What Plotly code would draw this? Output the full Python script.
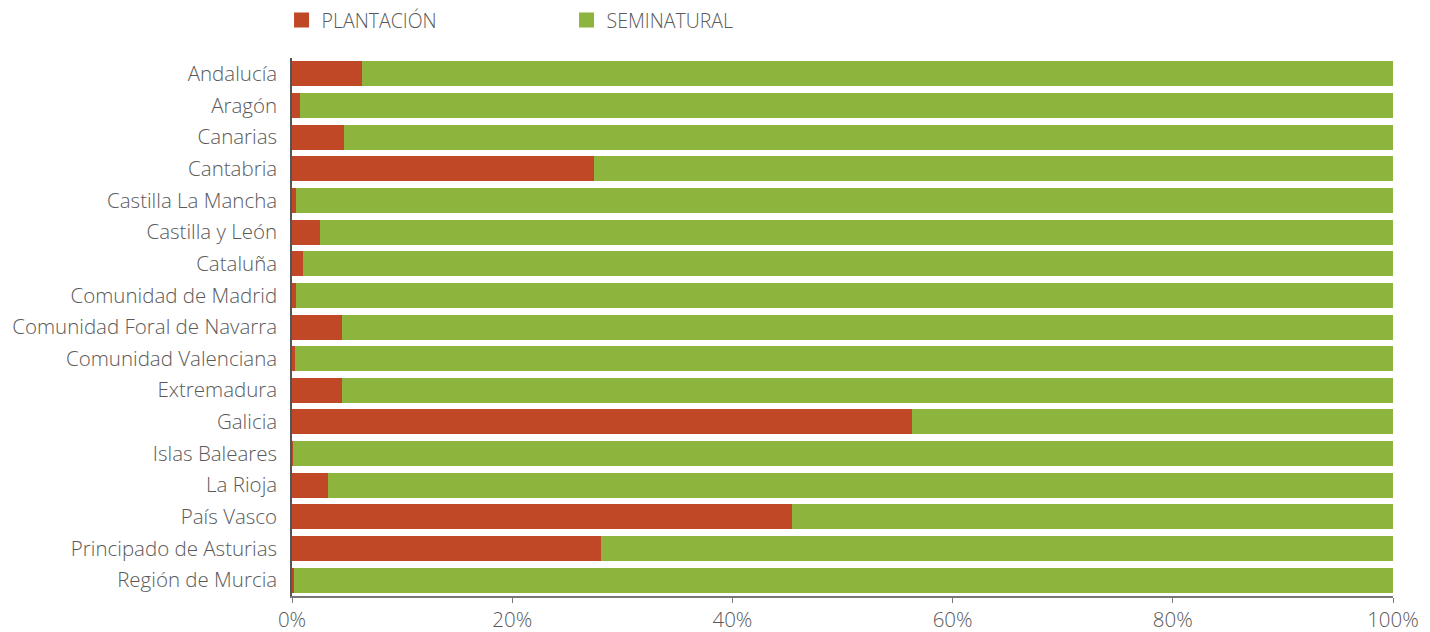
import plotly.graph_objects as go

regions = [
    "Andalucía", "Aragón", "Canarias", "Cantabria", "Castilla La Mancha",
    "Castilla y León", "Cataluña", "Comunidad de Madrid",
    "Comunidad Foral de Navarra", "Comunidad Valenciana", "Extremadura",
    "Galicia", "Islas Baleares", "La Rioja", "País Vasco",
    "Principado de Asturias", "Región de Murcia",
]
plantacion = [6.4, 0.7, 4.7, 27.4, 0.4, 2.5, 1.0, 0.4, 4.5, 0.25, 4.5,
              56.3, 0.05, 3.3, 45.4, 28.1, 0.2]
seminatural = [93.6, 99.3, 95.3, 72.6, 99.6, 97.5, 99.0, 99.6, 95.5, 99.75, 95.5,
               43.7, 99.95, 96.7, 54.6, 71.9, 99.8]
series_names = ["PLANTACIÓN", "SEMINATURAL"]
x_ticks = [0, 20, 40, 60, 80, 100]
x_tick_labels = ["0%", "20%", "40%", "60%", "80%", "100%"]

RED = "#C04826"
GREEN = "#8DB53E"
TXT = "#5a5a5a"
FONT = "Open Sans"

fig = go.Figure()
for name, vals, col in [(series_names[0], plantacion, RED), (series_names[1], seminatural, GREEN)]:
    fig.add_trace(go.Bar(y=regions, x=vals, orientation="h", name=name, showlegend=False,
                         marker=dict(color=col, line=dict(width=0))))
    # legend-only square marker
    fig.add_trace(go.Scatter(x=[None], y=[None], mode="markers", name=name,
                             marker=dict(symbol="square", size=15, color=col)))

fig.update_layout(
    width=1430, height=632,
    barmode="stack", bargap=0.21,
    paper_bgcolor="white", plot_bgcolor="white",
    margin=dict(l=284, r=45, t=50, b=44, autoexpand=False),
    font=dict(family=FONT, size=20.5, color=TXT, weight=300),
    showlegend=True,
    legend=dict(orientation="h", x=-0.0095, xanchor="left", y=1.07, yanchor="middle",
                entrywidth=240, entrywidthmode="pixels", itemsizing="trace",
                font=dict(family=FONT, size=19.5, color=TXT, weight=300),
                itemwidth=30, traceorder="normal", bgcolor="rgba(0,0,0,0)"),
)
fig.update_xaxes(range=[0, 100], tickvals=x_ticks, ticktext=x_tick_labels,
                 showgrid=False, zeroline=False, showline=True, linecolor="#777777",
                 linewidth=1.5, ticks="outside", ticklen=5, tickcolor="#777777",
                 fixedrange=True)
fig.update_yaxes(categoryorder="array", categoryarray=regions, autorange="reversed",
                 showgrid=False, zeroline=False, showline=True, linecolor="#555555",
                 linewidth=1.5, ticks="", ticklabelstandoff=9, fixedrange=True)

fig.write_html("out.html")
